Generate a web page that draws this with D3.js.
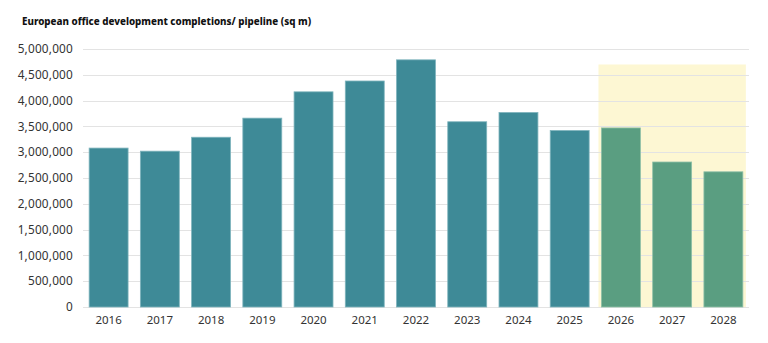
<!DOCTYPE html>
<html>
<head>
<meta charset="utf-8">
<script src="https://cdn.jsdelivr.net/npm/d3@7"></script>
<style>
  body { margin: 0; background: #fff; }
  text { font-family: "Noto Sans", sans-serif; }
</style>
</head>
<body>
<div class="chart"></div>
<script>
// data
var years = ["2016", "2017", "2018", "2019", "2020", "2021", "2022", "2023", "2024", "2025", "2026", "2027", "2028"];
var completions = [3080000, 3020000, 3290000, 3660000, 4170000, 4380000, 4790000, 3590000, 3770000, 3420000, 3470000, 2810000, 2620000];
var forecastYears = ["2026", "2027", "2028"];
var yTicks = [0, 500000, 1000000, 1500000, 2000000, 2500000, 3000000, 3500000, 4000000, 4500000, 5000000];
var highlightTop = 4700000;

var svgW = 768;
var svgH = 343;
var margin = { top: 49, right: 19, bottom: 36, left: 83 };
var chartW = svgW - margin.left - margin.right;
var chartH = svgH - margin.top - margin.bottom;

var svg = d3.select(".chart")
    .append("svg")
    .attr("width", svgW)
    .attr("height", svgH);

svg.append("text")
    .attr("x", 22)
    .attr("y", 25)
    .attr("font-size", 9.8)
    .attr("font-weight", 800)
    .attr("fill", "#111")
    .text("European office development completions/ pipeline (sq m)");

var chart = svg.append("g")
    .attr("transform", "translate(" + margin.left + "," + margin.top + ")");

var x = d3.scaleBand().domain(years).range([0, chartW]).paddingInner(0.24).paddingOuter(0.12);
var y = d3.scaleLinear().domain([0, 5000000]).range([chartH, 0]);

// forecast highlight
var fx0 = x(forecastYears[0]) - 3;
var fx1 = x(forecastYears[forecastYears.length - 1]) + x.bandwidth() + 3;
chart.append("rect")
    .attr("x", fx0)
    .attr("y", y(highlightTop))
    .attr("width", fx1 - fx0)
    .attr("height", chartH - y(highlightTop))
    .attr("fill", "#fdf7d3");

// gridlines
chart.append("g")
    .selectAll("line")
    .data(yTicks)
    .enter().append("line")
    .attr("x1", 0)
    .attr("x2", chartW)
    .attr("y1", function(d) { return Math.round(y(d)) + 0.5; })
    .attr("y2", function(d) { return Math.round(y(d)) + 0.5; })
    .attr("stroke", "#e3e3e3")
    .attr("stroke-width", 1);

// y axis labels
var yaxis = d3.axisLeft(y).tickValues(yTicks).tickSize(0).tickPadding(10).tickFormat(d3.format(","));
var yg = chart.append("g").call(yaxis);
yg.select(".domain").remove();
yg.selectAll("text").attr("font-size", 11.8).attr("fill", "#333").style("letter-spacing", "0.2px").style("font-family", "Noto Sans, sans-serif");

// x axis labels
var xaxis = d3.axisBottom(x).tickSize(0).tickPadding(9);
var xg = chart.append("g").attr("transform", "translate(0," + chartH + ")").call(xaxis);
xg.select(".domain").remove();
xg.selectAll("text").attr("font-size", 11.5).attr("fill", "#333").style("font-family", "Noto Sans, sans-serif");

// bars
chart.selectAll(".bar")
    .data(years)
    .enter().append("rect")
    .attr("class", "bar")
    .attr("x", function(d) { return x(d); })
    .attr("width", x.bandwidth())
    .attr("y", function(d, i) { return y(completions[i]); })
    .attr("height", function(d, i) { return chartH - y(completions[i]); })
    .attr("fill", function(d) { return forecastYears.indexOf(d) >= 0 ? "#5a9e81" : "#3e8a97"; })
    .attr("stroke", function(d) { return forecastYears.indexOf(d) >= 0 ? "#8fc0a8" : "#7fb4bd"; })
    .attr("stroke-width", 0.8);
</script>
</body>
</html>
